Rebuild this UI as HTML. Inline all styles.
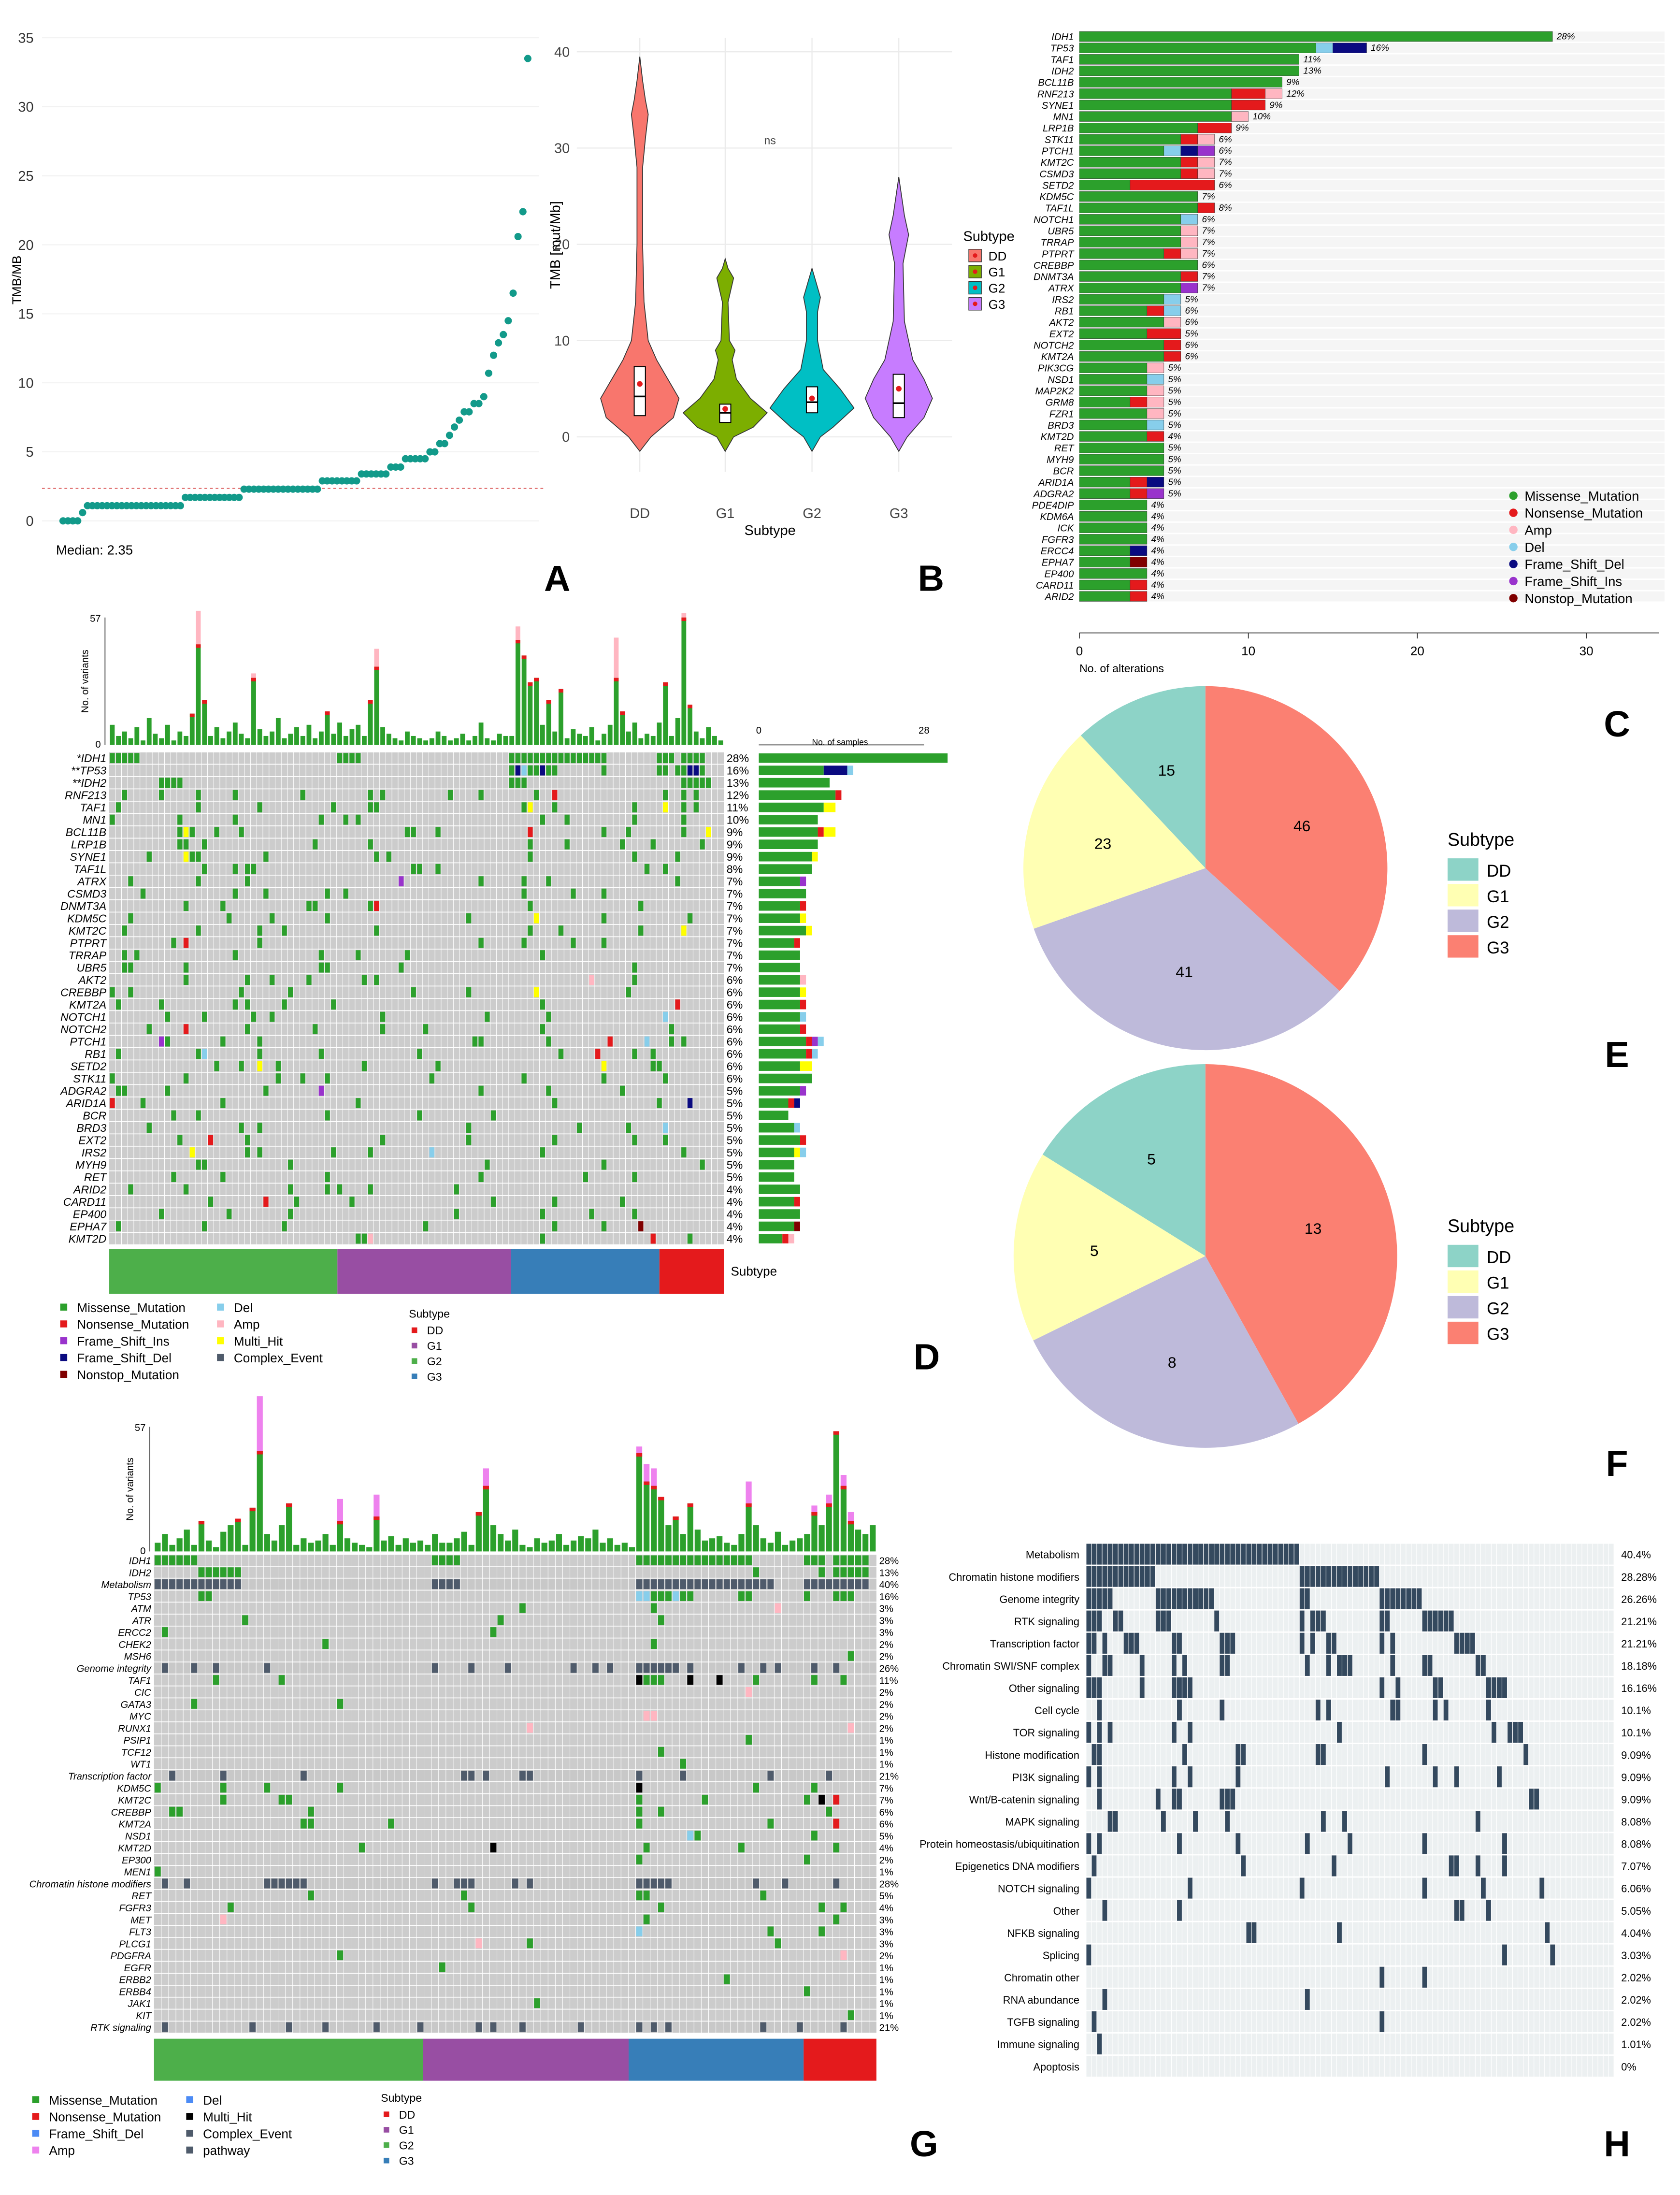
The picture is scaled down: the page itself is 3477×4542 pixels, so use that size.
<!DOCTYPE html>
<html><head><meta charset="utf-8"><style>
html,body{margin:0;padding:0;background:#fff;}
svg{display:block;font-family:"Liberation Sans",sans-serif;}
</style></head><body>
<svg id="fig" width="3477" height="4542" viewBox="0 0 1200 1567.6" xmlns="http://www.w3.org/2000/svg"></svg>
<script>
// ---------------- DATA ----------------
const tmbValues=[0,0,0,0,0.6,1.1,1.1,1.1,1.1,1.1,1.1,1.1,1.1,1.1,1.1,1.1,1.1,1.1,1.1,1.1,1.1,1.1,1.1,1.1,1.1,1.7,1.7,1.7,1.7,1.7,1.7,1.7,1.7,1.7,1.7,1.7,1.7,2.3,2.3,2.3,2.3,2.3,2.3,2.3,2.3,2.3,2.3,2.3,2.3,2.3,2.3,2.3,2.3,2.9,2.9,2.9,2.9,2.9,2.9,2.9,2.9,3.4,3.4,3.4,3.4,3.4,3.4,3.9,3.9,3.9,4.5,4.5,4.5,4.5,4.5,5.0,5.0,5.6,5.6,6.2,6.8,7.3,7.9,7.9,8.5,8.5,9.0,10.7,12.0,12.9,13.5,14.5,16.5,20.6,22.4,33.5];
const tmbTicks=[0,5,10,15,20,25,30,35];
const tmbMedian=2.35;

const violinGroups=["DD","G1","G2","G3"];
const violinColors=["#f8766d","#7cae00","#00bfc4","#c77cff"];
const violinProfiles=[
 [[-1.5,0],[0,8],[2,24],[4,28],[6,20],[8,12],[10,6],[14,3],[20,2],[28,2],[31,4],[33.5,6],[35,4],[37,2],[39.5,0]],
 [[-1.5,0],[0,6],[1,20],[2.5,30],[4,18],[6,8],[8,5],[9,7],[10,3],[14,2],[16.5,6],[17.5,2],[18.5,0]],
 [[-1.5,0],[0,6],[1,15],[3,30],[5,20],[7,8],[10,4],[13,4],[14.5,6],[16,3],[17.5,0]],
 [[-1.5,0],[0,6],[2,18],[4,24],[6,18],[8,10],[12,4],[18,3],[21,7],[23,4],[27,0]]];
const violinBox=[[2.2,4.2,7.3],[1.5,2.5,3.4],[2.5,3.6,5.2],[2,3.5,6.5]];
const violinMean=[5.5,2.9,4,5];
const violinTicks=[0,10,20,30,40];

const cGenes=["IDH1","TP53","TAF1","IDH2","BCL11B","RNF213","SYNE1","MN1","LRP1B","STK11","PTCH1","KMT2C","CSMD3","SETD2","KDM5C","TAF1L","NOTCH1","UBR5","TRRAP","PTPRT","CREBBP","DNMT3A","ATRX","IRS2","RB1","AKT2","EXT2","NOTCH2","KMT2A","PIK3CG","NSD1","MAP2K2","GRM8","FZR1","BRD3","KMT2D","RET","MYH9","BCR","ARID1A","ADGRA2","PDE4DIP","KDM6A","ICK","FGFR3","ERCC4","EPHA7","EP400","CARD11","ARID2"];
const cSegs=["g28","g14 b1 n2","g13","g13","g12","g9 r2 k1","g9 r2","g9 k1","g7 r2","g6 r1 k1","g5 b1 n1 p1","g6 r1 k1","g6 r1 k1","g3 r5","g7","g7 r1","g6 b1","g6 k1","g6 k1","g5 r1 k1","g7","g6 r1","g6 p1","g5 b1","g4 r1 b1","g5 k1","g4 r2","g5 r1","g5 r1","g4 k1","g4 b1","g4 k1","g3 r1 k1","g4 k1","g4 b1","g4 r1","g5","g5","g5","g3 r1 n1","g3 r1 p1","g4","g4","g4","g4","g3 n1","g3 d1","g4","g3 r1","g3 r1"];
const cPct=["28%","16%","11%","13%","9%","12%","9%","10%","9%","6%","6%","7%","7%","6%","7%","8%","6%","7%","7%","7%","6%","7%","7%","5%","6%","6%","5%","6%","6%","5%","5%","5%","5%","5%","5%","4%","5%","5%","5%","5%","5%","4%","4%","4%","4%","4%","4%","4%","4%","4%"];
const cTicks=[0,10,20,30];

const pieELabels=["DD","G1","G2","G3"];
const pieEValues=[15,23,41,46];
const pieFValues=[5,5,8,13];
const pieColors=["#8dd3c7","#ffffb3","#bebada","#fb8072"];

const dGenes=["IDH1","TP53","IDH2","RNF213","TAF1","MN1","BCL11B","LRP1B","SYNE1","TAF1L","ATRX","CSMD3","DNMT3A","KDM5C","KMT2C","PTPRT","TRRAP","UBR5","AKT2","CREBBP","KMT2A","NOTCH1","NOTCH2","PTCH1","RB1","SETD2","STK11","ADGRA2","ARID1A","BCR","BRD3","EXT2","IRS2","MYH9","RET","ARID2","CARD11","EP400","EPHA7","KMT2D"];
const dPrefix=["*","**","**"];
const dPct=["28%","16%","13%","12%","11%","10%","9%","9%","9%","8%","7%","7%","7%","7%","7%","7%","7%","7%","6%","6%","6%","6%","6%","6%","6%","6%","6%","5%","5%","5%","5%","5%","5%","5%","5%","4%","4%","4%","4%","4%"];
const dMuts=["0-4 37-40 65-80 89-91 93-96","65 66n 67b 68 69 70n 71 72 80 89 90 92 93 94n 95n 96","8-11 65 66 67 93-97","2 8 14 20 31 42 44 55 60 69 72r 90 93 95","1 14 24 36 42 43 67 68y 72 85 90y 93 95","0 11 20 34 38 40 70 74 85 93","11 12y 13 17 21 48 49 53 68r 80 84 93 97y","11 12 15 33 42 68 74 83 88 96","6 12y 13 14 25 43 45 68 85 92","15 20 22 23 49 50 53 87 90","3 14 22 47p 60 67 71 92","5 20 25 35 38 67 75 80","12 18 32 33 42 43r 68 86","3 19 26 35 58 69y 80 94","2 14 24 28 43 68 73 86 93y","10 12r 24 60 67 75 80","2 4 20 34 40 48 70","2 3 12 34 35 47 85","12 22 26 32 41 43 78k 85","0 3 21 29 49 58 69y 84","1 8 20 22 28 36 70 92r","9 15 23 26 44 61 71 90b","6 12r 22 33 44 51 70 91","8p 9 18 24 59 60 71 81r 87b 91 93","1 14 15b 24 34 50 73 79r 85 88","17 21 24y 27 41 53 80y 88 89","0 12 27 31 35 52 67 80 90","1 2 9 25 34p 60 71 83","0r 5 18 40 72 89 94n","10 14 35 50 62","6 21 24 58 76 84 90b","11 16r 22 44 58 72 85 90","13y 22 24 36 42 52b 70 93","14 15 29 61 80 96","10 18 35 60 77 85","3 12 29 35 37 42 56","16 25r 30 39 62 72 83","8 19 29 56 70 78 85","1 15 28 51 72 80 86d","40 41 42k 70 88r 94"];
const dTop=[9,4,6,3,8,2,12,5,3,9,2,6,4,14,45,20,4,8,3,6,10,5,3,30,7,4,6,12,3,5,8,4,9,3,6,15,5,10,4,7,9,4,20,35,8,5,3,2,6,4,3,2,3,6,4,2,3,5,2,4,10,3,2,5,4,4,47,40,28,30,9,20,6,25,3,7,5,4,8,2,5,9,30,15,6,10,3,5,4,10,28,4,12,57,18,6,3,8,4,2];
const dTopAmp=[0,0,0,0,0,0,0,0,0,0,0,0,0,0,15,0,0,0,0,0,0,0,0,2,0,0,0,0,0,0,0,0,0,0,0,0,0,0,0,0,0,0,0,8,0,0,0,0,0,0,0,0,0,0,0,0,0,0,0,0,0,0,0,0,0,0,6,0,0,0,0,0,0,0,0,0,0,0,0,0,0,0,18,0,0,0,0,0,0,0,0,0,0,2,0,0,0,0,0,0];

const gGenes=["IDH1","IDH2","Metabolism","TP53","ATM","ATR","ERCC2","CHEK2","MSH6","Genome integrity","TAF1","CIC","GATA3","MYC","RUNX1","PSIP1","TCF12","WT1","Transcription factor","KDM5C","KMT2C","CREBBP","KMT2A","NSD1","KMT2D","EP300","MEN1","Chromatin histone modifiers","RET","FGFR3","MET","FLT3","PLCG1","PDGFRA","EGFR","ERBB2","ERBB4","JAK1","KIT","RTK signaling"];
const gPct=["28%","13%","40%","16%","3%","3%","3%","2%","2%","26%","11%","2%","2%","2%","2%","1%","1%","1%","21%","7%","7%","6%","6%","5%","4%","2%","1%","28%","5%","4%","3%","3%","3%","2%","1%","1%","1%","1%","1%","21%"];
const gMuts=["0-5 38-41 66-81 89-91 93-97","6-11 82 91 93-97","0-11 38-41 66-84 89-97","6 7 66b 67b 68 69 70 71b 72 73 80 81 89 93 94 95","50 68 85k","12 47 69","1 46","23 68","95","1 5 8 15 38 43 48 57 60 62 66-71 73 80 83 85 90 93","8 17 66x 67 68 69 73x 77x 82 90 94","81k","5 25","67k 68k","51k 95k","81","69","72","2 9 20 42 43 45 50 51 66 72 84 92","0 9 15 25 66x 82 90","9 17 18 66 75 89 91x 93r","2 3 21 66 69 92","20 21 32 66 84 93r","73b 74 90","28 46x 67 80 93","66 89","0","1 4 15-20 38 41 42 43 49 51 66-70 82 86 93","21 42 66 67 83","10 43 69 91 94","9k 67 93","66b 84 91","44k 51 85","25 94k","39","78","89","52","95","1 13 18 23 30 36 44 46 50 58 66 68 70 83 88 94"];
const gPathRows=[2,9,18,27,39];
const gTop=[4,8,3,6,10,3,14,5,2,9,12,15,3,20,46,8,5,12,22,3,6,4,5,8,3,14,6,4,3,2,16,5,7,3,6,4,5,3,8,4,4,6,9,3,18,30,12,8,5,10,3,2,6,4,5,8,3,5,7,6,10,4,6,3,4,2,45,32,30,25,12,16,8,22,10,5,6,7,4,3,8,22,12,6,4,9,3,5,6,8,18,12,22,55,30,14,10,8,12];
const gTopAmp=[0,0,0,0,0,0,0,0,0,0,0,0,0,0,25,0,0,0,0,0,0,0,0,0,0,10,0,0,0,0,10,0,0,0,0,0,0,0,0,0,0,0,0,0,0,8,0,0,0,0,0,0,0,0,0,0,0,0,0,0,0,0,0,0,0,0,3,8,8,0,0,0,0,0,0,0,0,0,0,0,0,10,0,0,0,0,0,0,0,0,3,0,4,0,5,4,0,0,0];

const hRows=["Metabolism","Chromatin histone modifiers","Genome integrity","RTK signaling","Transcription factor","Chromatin SWI/SNF complex","Other signaling","Cell cycle","TOR signaling","Histone modification","PI3K signaling","Wnt/B-catenin signaling","MAPK signaling","Protein homeostasis/ubiquitination","Epigenetics DNA modifiers","NOTCH signaling","Other","NFKB signaling","Splicing","Chromatin other","RNA abundance","TGFB signaling","Immune signaling","Apoptosis"];
const hPct=["40.4%","28.28%","26.26%","21.21%","21.21%","18.18%","16.16%","10.1%","10.1%","9.09%","9.09%","9.09%","8.08%","8.08%","7.07%","6.06%","5.05%","4.04%","3.03%","2.02%","2.02%","2.02%","1.01%","0%"];
const hMuts=["0-39","0-12 40-54","0-4 13-23 40-41 55-62","0-2 5-6 13-15 24 40 42-44 55-56 63-68","0-1 3 7-9 16-17 25-27 40 42 45-46 55 57 69-72","0 3-4 10 16 18 25-26 41 45 47-49 57 63-64 73-74","0-2 10 16-19 55 58 65-66 75-78","2 17 25 43 45 57-58 65 67 75","0 2 4 16 19 47 76 79-81","1-2 18 28-29 43-44 63 82","0 2 16 19 28 56 65 69 77","2 13 16-17 25-27 83-84","4-5 14 20 26 44 48 73","0 2 17 28 41 49 63 78","1 29 46 68-69 73 78","0 19 40 63 74 85","3 17 69-70 75","30-31 47 86","0 78 87","55 63","3 41","1 55","2",""];

const mutColor={g:"#2ca02c",r:"#e41a1c",p:"#9933cc",n:"#0a0a80",d:"#800000",b:"#87ceeb",k:"#ffb6c1",y:"#ffff00",x:"#000000",v:"#4f5b6b",u:"#4c8bf5"};

// ---------------- HELPERS ----------------
const NS="http://www.w3.org/2000/svg";
const svg=document.getElementById('fig');
function mk(tag,attrs,parent){const e=document.createElementNS(NS,tag);for(const k in attrs)e.setAttribute(k,attrs[k]);(parent||svg).appendChild(e);return e;}
function txt(x,y,s,size,opts,parent){const e=mk('text',Object.assign({x:x,y:y,'font-size':size,fill:'#000'},opts||{}),parent);e.textContent=s;return e;}
function parseMuts(s,def){const out=[];if(!s)return out;s.trim().split(/\s+/).forEach(t=>{const m=t.match(/^(\d+)(?:-(\d+))?([a-z]?)$/);if(!m)return;const a=+m[1],b=m[2]?+m[2]:a,c=m[3]||def;for(let i=a;i<=b;i++)out.push([i,c]);});return out;}
function grp(name){const g=mk('g',{});return g;}

// ---------------- PANEL A ----------------
(function(){
 const g=grp('panel-a');
 const x0=30,x1=385,yb=372,yt=27,ymax=35;
 const Y=v=>yb-(v/ymax)*(yb-yt);
 const X=i=>45+i*(377-45)/(tmbValues.length-1);
 tmbTicks.forEach(t=>{const l=mk('line',{x1:x0,x2:x1,y1:Y(t),y2:Y(t),stroke:'#eeeeee','stroke-width':0.6},g);
  const tl=txt(x0-6,Y(t)+3.5,String(t),10,{'text-anchor':'end',fill:'#333'},g);});
 const ml=mk('line',{x1:x0,x2:x1+5,y1:Y(tmbMedian),y2:Y(tmbMedian),stroke:'#e07070','stroke-width':0.8,'stroke-dasharray':'2,2'},g);
 tmbValues.forEach((v,i)=>{const c=mk('circle',{cx:X(i),cy:Y(v),r:2.6,fill:'#129a8a'},g);});
 const yl=txt(15,200,'TMB/MB',9,{transform:'rotate(-90 15 200)','text-anchor':'middle'},g);
 const md=txt(40,396,'Median: '+tmbMedian,9.5,{},g);
})();

// ---------------- PANEL B ----------------
(function(){
 const g=grp('panel-b');
 const yb=312,yt=37,ymax=40,xl=412,xr=680;
 const Y=v=>yb-(v/ymax)*(yb-yt);
 const cx=[457,518,580,642];
 violinTicks.forEach(t=>{const l=mk('line',{x1:xl,x2:xr,y1:Y(t),y2:Y(t),stroke:'#ebebeb','stroke-width':0.8},g);
  const tl=txt(xl-5,Y(t)+3.5,String(t),10,{'text-anchor':'end',fill:'#444'},g);});
 cx.forEach(x=>{const l=mk('line',{x1:x,x2:x,y1:yt-10,y2:yb+25,stroke:'#ebebeb','stroke-width':0.8},g);});
 violinGroups.forEach((name,i)=>{
  const p=violinProfiles[i];let d='M'+cx[i]+','+Y(p[0][0]);
  p.forEach(q=>{d+=' L'+(cx[i]+q[1])+','+Y(q[0]);});
  for(let k=p.length-1;k>=0;k--)d+=' L'+(cx[i]-p[k][1])+','+Y(p[k][0]);
  const v=mk('path',{d:d+'Z',fill:violinColors[i],stroke:'#333','stroke-width':0.6},g);
  const b=violinBox[i];
  const bx=mk('rect',{x:cx[i]-4,y:Y(b[2]),width:8,height:Y(b[0])-Y(b[2]),fill:'#fff',stroke:'#000','stroke-width':0.7},g);
  const md=mk('line',{x1:cx[i]-4,x2:cx[i]+4,y1:Y(b[1]),y2:Y(b[1]),stroke:'#000','stroke-width':1.2},g);
  const mn=mk('circle',{cx:cx[i],cy:Y(violinMean[i]),r:2,fill:'#e41a1c'},g);
  const tl=txt(cx[i],370,name,10,{'text-anchor':'middle',fill:'#444'},g);
 });
 const ns=txt(550,103,'ns',8,{'text-anchor':'middle',fill:'#444'},g);
 const xt=txt(550,382,'Subtype',10,{'text-anchor':'middle'},g);
 const yt2=txt(400,175,'TMB [mut/Mb]',10,{transform:'rotate(-90 400 175)','text-anchor':'middle'},g);
 const lt=txt(688,172,'Subtype',10,{},g);
 violinGroups.forEach((n,i)=>{const r=mk('rect',{x:692,y:178+i*11.5,width:9,height:9,fill:violinColors[i],stroke:'#333','stroke-width':0.5},g);
  const d=mk('circle',{cx:696.5,cy:182.5+i*11.5,r:1.6,fill:'#e41a1c'},g);
  const t=txt(706,186+i*11.5,n,9,{},g);});
})();

// ---------------- PANEL C ----------------
(function(){
 const g=grp('panel-c');
 const x0=771,scale=12.07,y0=22,rh=8.16;
 cGenes.forEach((gene,i)=>{
  const y=y0+i*rh;
  const bg=mk('rect',{x:x0,y:y+0.5,width:418,height:rh-1,fill:'#f5f5f5'},g);
  const gl=txt(x0-4,y+rh-1.5,gene,7,{'text-anchor':'end','font-style':'italic'},g);
  let x=x0;
  cSegs[i].split(' ').forEach(s=>{const c=s[0],v=+s.slice(1);const r=mk('rect',{x:x,y:y+0.5,width:v*scale,height:rh-1,fill:mutColor[c],stroke:'#333','stroke-width':0.2},g);x+=v*scale;});
  const p=txt(x+3,y+rh-2,cPct[i],6.5,{'font-style':'italic'},g);
 });
 const ax=mk('line',{x1:x0,x2:1185,y1:452,y2:452,stroke:'#333','stroke-width':0.6},g);
 cTicks.forEach(t=>{const l=mk('line',{x1:x0+t*scale,x2:x0+t*scale,y1:452,y2:456,stroke:'#333','stroke-width':0.6},g);
  const tl=txt(x0+t*scale,468,String(t),9,{'text-anchor':'middle'},g);});
 const xt=txt(x0,480,'No. of alterations',8,{},g);
 const leg=[["Missense_Mutation","g"],["Nonsense_Mutation","r"],["Amp","k"],["Del","b"],["Frame_Shift_Del","n"],["Frame_Shift_Ins","p"],["Nonstop_Mutation","d"]];
 leg.forEach((l,i)=>{const c=mk('circle',{cx:1081,cy:354+i*12.2,r:3,fill:mutColor[l[1]]},g);
  const t=txt(1089,357.5+i*12.2,l[0],9.5,{},g);});
})();

// ---------------- PIES E/F ----------------
function pie(name,cx,cy,r,vals,ly){
 const g=grp(name);const tot=vals.reduce((a,b)=>a+b,0);
 const order=[3,2,1,0];let a=0;
 order.forEach(k=>{const a0=a,a1=a+vals[k]/tot*2*Math.PI;a=a1;
  const p=(ang)=>[cx+r*Math.sin(ang),cy-r*Math.cos(ang)];
  const s=p(a0),e=p(a1);const large=(a1-a0)>Math.PI?1:0;
  const sl=mk('path',{d:`M${cx},${cy} L${s[0]},${s[1]} A${r},${r} 0 ${large} 1 ${e[0]},${e[1]} Z`,fill:pieColors[k]},g);
  const m=(a0+a1)/2;const t=txt(cx+r*0.58*Math.sin(m),cy-r*0.58*Math.cos(m)+4,String(vals[k]),11,{'text-anchor':'middle'},g);});
 const lt=txt(1034,ly,'Subtype',13,{},g);
 pieELabels.forEach((l,i)=>{const r2=mk('rect',{x:1034,y:ly+9+i*18.3,width:22,height:16,fill:pieColors[i]},g);
  const t=txt(1062,ly+22+i*18.3,l,12,{},g);});
}
pie('panel-e',861,620,130,pieEValues,604);
pie('panel-f',861,897,137,pieFValues,880);

// ---------------- ONCOPLOT ----------------
function oncoplot(o){
 const g=grp(o.name);
 const n=o.top.length,cw=(o.x1-o.x0)/n,rh=(o.y1-o.y0)/o.genes.length;
 const tmax=57,th=o.topB-o.topT;
 o.top.forEach((v,i)=>{const h=v/tmax*th;const r=mk('rect',{x:o.x0+i*cw+0.5,y:o.topB-h,width:cw-1,height:h,fill:'#2ca02c'},g);
  const a=o.amp[i];if(a>0){const hh=a/tmax*th;const r2=mk('rect',{x:o.x0+i*cw+0.5,y:o.topB-h-hh,width:cw-1,height:hh,fill:o.ampColor},g);}
  if(v>12){const r3=mk('rect',{x:o.x0+i*cw+0.5,y:o.topB-h,width:cw-1,height:2.5,fill:'#e41a1c'},g);}});
 const ya=mk('line',{x1:o.x0-3,x2:o.x0-3,y1:o.topT,y2:o.topB,stroke:'#333','stroke-width':0.6},g);
 const t57=txt(o.x0-6,o.topT+3,'57',7,{'text-anchor':'end'},g);
 const t0=txt(o.x0-6,o.topB+2,'0',7,{'text-anchor':'end'},g);
 const yt=txt(o.x0-15,(o.topT+o.topB)/2,'No. of variants',7,{transform:`rotate(-90 ${o.x0-15} ${(o.topT+o.topB)/2})`,'text-anchor':'middle'},g);
 const bg=mk('rect',{x:o.x0,y:o.y0,width:o.x1-o.x0,height:o.y1-o.y0,fill:'#ffffff'},g);
 o.genes.forEach((gene,r)=>{const y=o.y0+r*rh;const isPath=o.pathRows&&o.pathRows.indexOf(r)>=0;
  const row=mk('rect',{x:o.x0,y:y+0.3,width:o.x1-o.x0,height:rh-0.6,fill:isPath?'#c8c8c8':'#cccccc'},g);
  parseMuts(o.muts[r],isPath?'v':'g').forEach(m=>{const c=mk('rect',{x:o.x0+m[0]*cw+0.4,y:y+0.8,width:cw-0.8,height:rh-1.6,fill:mutColor[m[1]]},g);});
  const lab=(o.prefix&&o.prefix[r]?o.prefix[r]:'')+gene;
  const gl=txt(o.x0-2,y+rh-1.5,lab,o.fs,{'text-anchor':'end','font-style':'italic'},g);
  const pl=txt(o.x1+2,y+rh-1.5,o.pct[r],o.fs,{},g);});
 for(let i=1;i<n;i++){const l=mk('line',{x1:o.x0+i*cw,x2:o.x0+i*cw,y1:o.y0,y2:o.y1,stroke:'#ffffff','stroke-width':0.35},g);}
 const cols=["#4daf4a","#984ea3","#377eb8","#e41a1c"],names=["G1","G2","G3","DD"];
 let ax=o.x0;o.annot.forEach((w,i)=>{const r=mk('rect',{x:ax,y:o.aT,width:w,height:o.aH,fill:cols[i]},g);ax+=w;});
 return g;
}

const gD=oncoplot({name:'panel-d',genes:dGenes,prefix:dPrefix,pct:dPct,muts:dMuts,top:dTop,amp:dTopAmp,ampColor:'#ffb6c1',x0:78,x1:517,y0:537,y1:889,topT:441,topB:532,aT:892,aH:32,annot:[163,124,106,46],fs:8});
(function(){
 const g=gD;const x0=542,sc=118/28,rh=(889-537)/dGenes.length;
 const ax=mk('line',{x1:x0,x2:660,y1:532,y2:532,stroke:'#333','stroke-width':0.6},g);
 const a0=txt(x0,524,'0',7,{'text-anchor':'middle'},g);
 const a1=txt(660,524,'28',7,{'text-anchor':'middle'},g);
 const at=txt(600,532,'No. of samples',6,{'text-anchor':'middle'},g);
 dGenes.forEach((gene,r)=>{const ms=parseMuts(dMuts[r],'g');const counts={};ms.forEach(m=>counts[m[1]]=(counts[m[1]]||0)+1);let x=x0;
  ['g','r','y','p','n','b','k','d'].forEach(c=>{if(!counts[c])return;const b=mk('rect',{x:x,y:537+r*rh+1,width:counts[c]*sc,height:rh-2,fill:mutColor[c]},g);x+=counts[c]*sc;});});
 const sl=txt(522,911,'Subtype',9,{},g);
 const leg=[["Missense_Mutation","g",55,937],["Nonsense_Mutation","r",55,949],["Frame_Shift_Ins","p",55,961],["Frame_Shift_Del","n",55,973],["Nonstop_Mutation","d",55,985],["Del","b",167,937],["Amp","k",167,949],["Multi_Hit","y",167,961],["Complex_Event","v",167,973]];
 leg.forEach(l=>{const r=mk('rect',{x:l[2]-12,y:l[3]-6,width:5,height:5,fill:mutColor[l[1]]},g);
  const t=txt(l[2],l[3],l[0],9,{},g);});
 const st=txt(292,941,'Subtype',8,{},g);
 [["DD","#e41a1c"],["G1","#984ea3"],["G2","#4daf4a"],["G3","#377eb8"]].forEach((l,i)=>{const r=mk('rect',{x:294,y:948+i*11,width:4,height:4,fill:l[1]},g);
  const t=txt(305,953+i*11,l[0],8,{},g);});
})();

const gG=oncoplot({name:'panel-g',genes:gGenes,pct:gPct,muts:gMuts,pathRows:gPathRows,top:gTop,amp:gTopAmp,ampColor:'#ee82ee',x0:110,x1:626,y0:1110,y1:1452,topT:1019,topB:1108,aT:1456,aH:30,annot:[192,147,125,52],fs:7});
(function(){
 const g=gG;
 const leg=[["Missense_Mutation","g",35,1503],["Nonsense_Mutation","r",35,1515],["Frame_Shift_Del","u",35,1527],["Amp","k",35,1539],["Del","u",145,1503],["Multi_Hit","x",145,1515],["Complex_Event","v",145,1527],["pathway","v",145,1539]];
 leg.forEach(l=>{const r=mk('rect',{x:l[2]-12,y:l[3]-6,width:5,height:5,fill:l[0]==='Amp'?'#ee82ee':mutColor[l[1]]},g);
  const t=txt(l[2],l[3],l[0],9,{},g);});
 const st=txt(272,1501,'Subtype',8,{},g);
 [["DD","#e41a1c"],["G1","#984ea3"],["G2","#4daf4a"],["G3","#377eb8"]].forEach((l,i)=>{const r=mk('rect',{x:274,y:1508+i*11,width:4,height:4,fill:l[1]},g);
  const t=txt(285,1513+i*11,l[0],8,{},g);});
})();

// ---------------- PANEL H ----------------
(function(){
 const g=grp('panel-h');
 const x0=776,x1=1153,y0=1102,rh=15.9,n=99,cw=(x1-x0)/n;
 hRows.forEach((name,r)=>{const y=y0+r*rh;
  for(let i=0;i<n;i++){const c=mk('rect',{x:x0+i*cw,y:y+0.5,width:cw-0.4,height:rh-1,fill:'#ecf0f1'},g);}
  parseMuts(hMuts[r],'v').forEach(m=>{const c=mk('rect',{x:x0+m[0]*cw,y:y+0.5,width:cw-0.4,height:rh-1,fill:'#34495e'},g);});
  const l=txt(x0-5,y+rh/2+3,name,7.5,{'text-anchor':'end'},g);
  const p=txt(x1+5,y+rh/2+3,hPct[r],7.5,{},g);});
})();

// ---------------- PANEL LETTERS ----------------
[["A",398,422],["B",665,422],["C",1155,526],["D",662,978],["E",1155,762],["F",1155,1054],["G",660,1540],["H",1155,1540]].forEach(p=>{
 const t=txt(p[1],p[2],p[0],26,{'font-weight':'bold','text-anchor':'middle'});});
</script>
</body></html>
